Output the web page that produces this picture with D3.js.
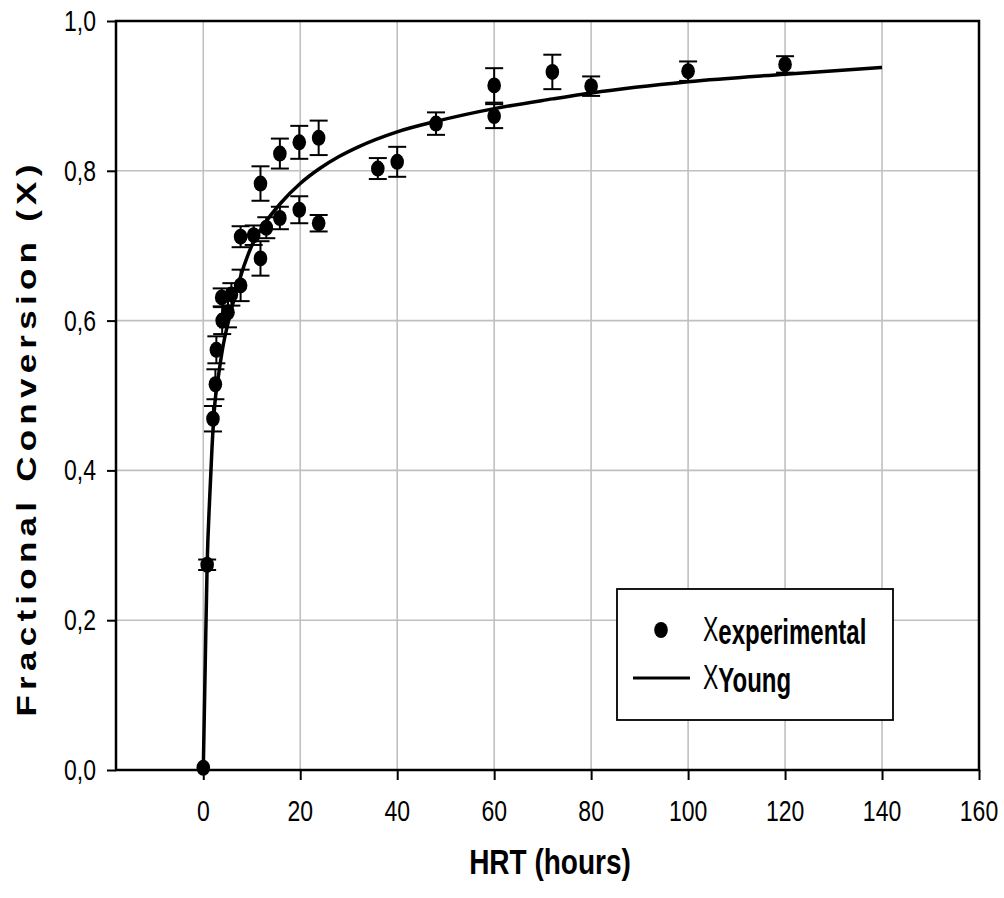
<!DOCTYPE html>
<html>
<head>
<meta charset="utf-8">
<script src="https://cdn.jsdelivr.net/npm/d3@7"></script>
<style>
    body { margin: 0; background: #fff; }
    svg { display: block; font-family: "Liberation Sans", Arial, sans-serif; }
</style>
</head>
<body>
<svg id="chart" width="1004" height="898"></svg>
<script>
// experimental points: HRT (hours), fractional conversion, error bar half-height
const hrtHours = [0, 0.8, 2.0, 2.5, 2.7, 3.8, 3.9, 5.1, 5.8, 7.7, 7.7, 10.4, 11.8, 11.8, 13,
    15.8, 15.8, 19.8, 19.8, 23.8, 23.8, 36, 40, 48, 60, 60, 72, 80, 100, 120];
const conversion = [0.003, 0.274, 0.469, 0.515, 0.561, 0.631, 0.600, 0.611, 0.635, 0.647, 0.712, 0.714, 0.683, 0.783, 0.724,
    0.737, 0.823, 0.748, 0.838, 0.730, 0.844, 0.803, 0.812, 0.863, 0.873, 0.914, 0.932, 0.913, 0.933, 0.942];
const conversionErr = [0, 0.007, 0.017, 0.02, 0.018, 0.012, 0.018, 0.02, 0.015, 0.021, 0.014, 0.013, 0.023, 0.023, 0.014,
    0.015, 0.02, 0.018, 0.022, 0.011, 0.023, 0.014, 0.02, 0.015, 0.016, 0.023, 0.023, 0.013, 0.013, 0.011];

// Young model curve
const fitHours = [0, 0.4, 0.8, 1.3, 1.8, 2.4, 3, 4, 5.5, 7.5, 10, 12.5, 16, 20, 24, 28, 32, 40, 48, 60, 72, 80, 100, 120, 140];
const fitConversion = [0, 0.14, 0.274, 0.36, 0.43, 0.49, 0.52, 0.563, 0.607, 0.655, 0.700, 0.728, 0.757, 0.783, 0.803,
    0.819, 0.832, 0.852, 0.866, 0.883, 0.896, 0.904, 0.919, 0.929, 0.938];

const xTicks = [0, 20, 40, 60, 80, 100, 120, 140, 160];
const yTicks = [0, 0.2, 0.4, 0.6, 0.8, 1.0];
const yTickLabels = ["0,0", "0,2", "0,4", "0,6", "0,8", "1,0"];

(function () {
    const svg = d3.select("#chart");
    const left = 116, right = 979, top = 21, bottom = 770;
    const stretch = 1.25; // text in the picture is taller than it is wide

    const x = d3.scaleLinear().domain([-18, 160]).range([left, right]);
    const y = d3.scaleLinear().domain([0, 1]).range([bottom, top]);

    const points = hrtHours.map(function (h, i) {
        return { h: h, c: conversion[i], e: conversionErr[i] };
    });

    // grid
    svg.append("g").selectAll("line").data(xTicks.filter(function (d) { return d < 160; }))
        .enter().append("line")
        .attr("x1", function (d) { return x(d); }).attr("x2", function (d) { return x(d); })
        .attr("y1", top).attr("y2", bottom)
        .attr("stroke", "#c0c0c0").attr("stroke-width", 1.6);
    svg.append("g").selectAll("line").data(yTicks.filter(function (d) { return d > 0 && d < 1; }))
        .enter().append("line")
        .attr("x1", left).attr("x2", right)
        .attr("y1", function (d) { return y(d); }).attr("y2", function (d) { return y(d); })
        .attr("stroke", "#c0c0c0").attr("stroke-width", 1.6);

    // axes
    const xAxis = svg.append("g").attr("transform", "translate(0," + bottom + ")")
        .call(d3.axisBottom(x).tickValues(xTicks).tickSize(10).tickFormat(""));
    const yAxis = svg.append("g").attr("transform", "translate(" + left + ",0)")
        .call(d3.axisLeft(y).tickValues(yTicks).tickSize(9).tickFormat(""));
    [xAxis, yAxis].forEach(function (a) {
        a.select(".domain").remove();
        a.selectAll("line").attr("stroke", "#000").attr("stroke-width", 2);
    });

    // frame
    svg.append("rect")
        .attr("x", left).attr("y", top)
        .attr("width", right - left).attr("height", bottom - top)
        .attr("fill", "none").attr("stroke", "#000").attr("stroke-width", 2.5);

    // tick labels
    svg.append("g").selectAll("text").data(xTicks).enter().append("text")
        .attr("text-anchor", "middle")
        .attr("font-size", 23)
        .attr("transform", function (d) { return "translate(" + x(d) + ",821) scale(1," + stretch + ")"; })
        .text(function (d) { return d; });
    svg.append("g").selectAll("text").data(yTicks).enter().append("text")
        .attr("text-anchor", "end")
        .attr("font-size", 23)
        .attr("transform", function (d) { return "translate(96," + (y(d) + 10) + ") scale(1," + stretch + ")"; })
        .text(function (d, i) { return yTickLabels[i]; });

    // axis titles
    svg.append("text")
        .attr("text-anchor", "middle")
        .attr("font-size", 28).attr("font-weight", "bold")
        .attr("transform", "translate(550,874) scale(1," + stretch + ")")
        .text("HRT (hours)");
    svg.append("text")
        .attr("text-anchor", "middle")
        .attr("font-size", 28).attr("font-weight", "bold")
        .attr("letter-spacing", 4.2)
        .attr("transform", "translate(36,438) rotate(-90) scale(" + stretch + ",1)")
        .text("Fractional Conversion (X)");

    // fitted curve
    const line = d3.line()
        .x(function (d, i) { return x(fitHours[i]); })
        .y(function (d) { return y(d); })
        .curve(d3.curveMonotoneX);
    svg.append("path")
        .datum(fitConversion)
        .attr("d", line)
        .attr("fill", "none").attr("stroke", "#000").attr("stroke-width", 3.5);

    // error bars
    const bars = svg.append("g").selectAll("g")
        .data(points.filter(function (p) { return p.e > 0; }))
        .enter().append("g");
    bars.append("line")
        .attr("x1", function (p) { return x(p.h); })
        .attr("x2", function (p) { return x(p.h); })
        .attr("y1", function (p) { return y(p.c - p.e); })
        .attr("y2", function (p) { return y(p.c + p.e); })
        .attr("stroke", "#000").attr("stroke-width", 2);
    [-1, 1].forEach(function (s) {
        bars.append("line")
            .attr("x1", function (p) { return x(p.h) - 9; })
            .attr("x2", function (p) { return x(p.h) + 9; })
            .attr("y1", function (p) { return y(p.c + s * p.e); })
            .attr("y2", function (p) { return y(p.c + s * p.e); })
            .attr("stroke", "#000").attr("stroke-width", 2);
    });

    // points
    svg.append("g").selectAll("ellipse").data(points).enter().append("ellipse")
        .attr("cx", function (p) { return x(p.h); })
        .attr("cy", function (p) { return y(p.c); })
        .attr("rx", 6.8).attr("ry", 8)
        .attr("fill", "#000");

    // legend
    const legend = svg.append("g");
    legend.append("rect")
        .attr("x", 617).attr("y", 589).attr("width", 276).attr("height", 131)
        .attr("fill", "#fff").attr("stroke", "#000").attr("stroke-width", 1.8);
    legend.append("ellipse")
        .attr("cx", 661).attr("cy", 630).attr("rx", 6.8).attr("ry", 8).attr("fill", "#000");
    legend.append("line")
        .attr("x1", 633).attr("x2", 690).attr("y1", 678).attr("y2", 678)
        .attr("stroke", "#000").attr("stroke-width", 3);
    const names = [["experimental", 641], ["Young", 689]];
    names.forEach(function (n) {
        const t = legend.append("text")
            .attr("font-size", 23)
            .attr("transform", "translate(703," + n[1] + ") scale(1,1.5)");
        t.append("tspan").text("X");
        t.append("tspan").attr("dy", 2).attr("font-size", 24).attr("font-weight", "bold").text(n[0]);
    });
})();
</script>
</body>
</html>
